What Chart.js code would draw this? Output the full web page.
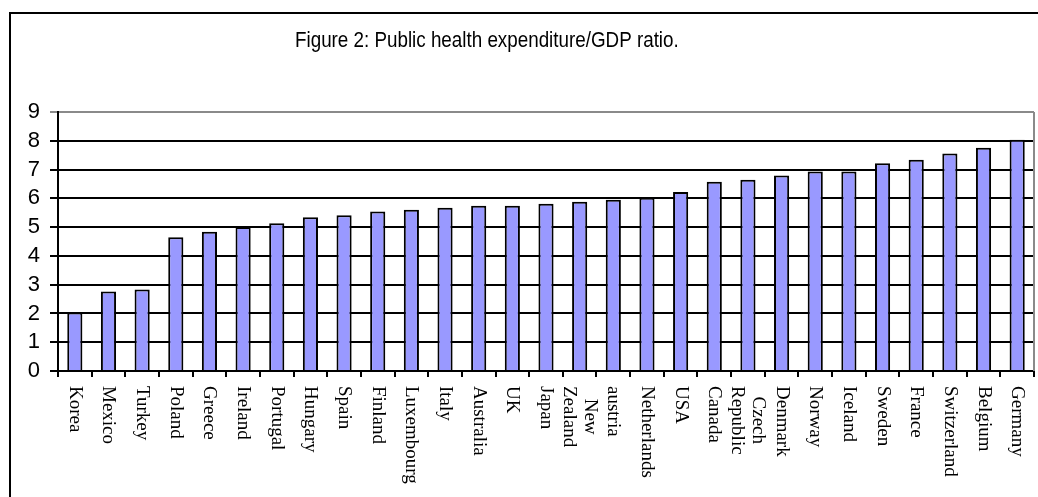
<!DOCTYPE html>
<html lang="en">
<head>
<meta charset="UTF-8" />
<title>Public health expenditure/GDP ratio</title>
<script src="https://cdn.jsdelivr.net/npm/chart.js@4.4.1/dist/chart.umd.min.js"></script>
<style>
    html, body { margin: 0; padding: 0; background: #ffffff; overflow: hidden; }
    .wrap { position: relative; width: 1038px; height: 497px; }
    .frame {
        position: absolute; left: 9px; top: 12px; width: 1100px; height: 600px;
        border-left: 2px solid #000; border-top: 2px solid #000;
    }
    canvas { position: absolute; left: 0; top: 0; }
</style>
</head>
<body>
<div class="wrap">
    <div class="frame"></div>
    <canvas id="chart" width="1038" height="497"></canvas>
</div>
<script>
// data
const titleText = 'Figure 2: Public health expenditure/GDP ratio.';
const countries = [
    'Korea', 'Mexico', 'Turkey', 'Poland', 'Greece', 'Ireland', 'Portugal', 'Hungary',
    'Spain', 'Finland', 'Luxembourg', 'Italy', 'Australia', 'UK', 'Japan',
    ['New', 'Zealand'], 'austria', 'Netherlands', 'USA', 'Canada', ['Czech', 'Republic'],
    'Denmark', 'Norway', 'Iceland', 'Sweden', 'France', 'Switzerland', 'Belgium', 'Germany'
];
const ratios = [
    2.03, 2.76, 2.83, 4.65, 4.84, 5.00, 5.13, 5.34,
    5.41, 5.54, 5.60, 5.67, 5.74, 5.74, 5.81,
    5.88, 5.95, 6.02, 6.22, 6.58, 6.65,
    6.79, 6.93, 6.93, 7.22, 7.34, 7.56, 7.76, 8.04
];

// title + rotated (clockwise) category labels + grey plot border on the right
const extras = {
    id: 'extras',
    afterDraw(chart) {
        const ctx = chart.ctx;
        const area = chart.chartArea;
        const xs = chart.scales.x;

        ctx.save();
        ctx.fillStyle = '#000';
        ctx.font = '22px "Liberation Sans", Arial, sans-serif';
        ctx.textBaseline = 'alphabetic';
        ctx.textAlign = 'left';
        ctx.translate(295, 47);
        ctx.scale(0.855, 1);
        ctx.fillText(titleText, 0, 0);
        ctx.restore();

        ctx.save();
        ctx.strokeStyle = '#8a8a8a';
        ctx.lineWidth = 2;
        ctx.beginPath();
        ctx.moveTo(area.right, area.top);
        ctx.lineTo(area.right, area.bottom);
        ctx.stroke();
        ctx.restore();

        ctx.save();
        ctx.fillStyle = '#000';
        ctx.font = '19px "Liberation Serif", "Times New Roman", serif';
        ctx.textBaseline = 'middle';
        ctx.textAlign = 'left';
        countries.forEach((lab, i) => {
            const lines = Array.isArray(lab) ? lab : [lab];
            const widths = lines.map(l => ctx.measureText(l).width);
            const maxW = Math.max(...widths);
            const lh = 21;
            const x = xs.getPixelForValue(i);
            ctx.save();
            ctx.translate(x, area.bottom + 15);
            ctx.rotate(Math.PI / 2);
            lines.forEach((l, k) => {
                const dy = (k - (lines.length - 1) / 2) * lh;
                ctx.fillText(l, (maxW - widths[k]) / 2, dy);
            });
            ctx.restore();
        });
        ctx.restore();
    }
};

new Chart(document.getElementById('chart').getContext('2d'), {
    type: 'bar',
    data: {
        labels: countries.map(c => Array.isArray(c) ? c.join(' ') : c),
        datasets: [{
            data: ratios,
            backgroundColor: '#9999ff',
            borderColor: '#000000',
            borderWidth: 2,
            borderSkipped: 'bottom',
            categoryPercentage: 1,
            barPercentage: 0.45
        }]
    },
    options: {
        responsive: false,
        animation: false,
        layout: { padding: { top: 112, right: 4, left: 0, bottom: 0 } },
        plugins: {
            legend: { display: false },
            title: { display: false },
            tooltip: { enabled: false }
        },
        scales: {
            x: {
                afterFit: s => { s.height = 126; },
                ticks: { display: false },
                grid: {
                    drawOnChartArea: false,
                    drawTicks: true,
                    tickLength: 6,
                    color: '#000',
                    lineWidth: 2
                },
                border: { color: '#000', width: 2 }
            },
            y: {
                min: 0,
                max: 9,
                afterFit: s => { s.width = 58; },
                ticks: {
                    stepSize: 1,
                    autoSkip: false,
                    padding: 10,
                    color: '#000',
                    font: { family: '"Liberation Sans", Arial, sans-serif', size: 22 }
                },
                grid: {
                    color: ctx => ctx.tick && ctx.tick.value === 9 ? '#8a8a8a' : '#000',
                    lineWidth: 2,
                    tickLength: 8
                },
                border: { color: '#000', width: 2 }
            }
        }
    },
    plugins: [extras]
});
</script>
</body>
</html>
